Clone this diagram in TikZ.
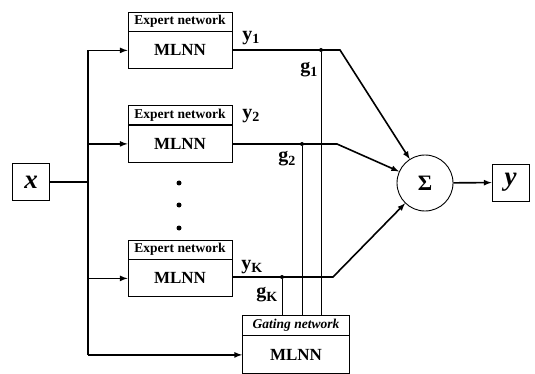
\documentclass[tikz,border=0pt]{standalone}
\usepackage{fontspec}
\setmainfont{Liberation Serif}
\usepackage{tikz}
\tikzstyle{head}=[rectangle,draw=black,line width=0.9pt,minimum width=104pt,minimum height=19pt,inner sep=0pt,
font=\fontsize{13.5}{13.5}\selectfont\bfseries]
\tikzstyle{body}=[rectangle,draw=black,line width=0.9pt,minimum width=104pt,minimum height=37pt,inner sep=0pt,
font=\fontsize{17}{17}\selectfont\bfseries]
\tikzstyle{io}=[rectangle,draw=black,line width=0.9pt,minimum width=37pt,minimum height=37pt,inner sep=0pt,
font=\fontsize{27}{27}\selectfont\bfseries\itshape]
\tikzstyle{sum}=[circle,draw=black,line width=0.9pt,minimum size=56pt,inner sep=0pt,font=\fontsize{22}{22}\selectfont\bfseries]
\tikzstyle{lbl}=[inner sep=0pt,font=\fontsize{20}{20}\selectfont\bfseries]
\tikzstyle{wire}=[line width=1.6pt]
\tikzstyle{gwire}=[line width=0.7pt]
\tikzstyle{dot}=[circle,fill=black,inner sep=0pt,minimum size=4pt]
\usetikzlibrary{arrows,positioning}

\begin{document}
\begin{tikzpicture}[x=1pt,y=-1pt,>=latex]
            \useasboundingbox (0,0) rectangle (535,374);

            % INPUT AND OUTPUT

            \node[io] (x) at (31,182) {x};
            \node[sum] (sigma) at (425,183) {Σ};
            \node[io] (y) at (510.5,182.5) {y};
            \coordinate (bus) at (88,182);

            % EXPERT NETWORKS

            \node[head] (h1) at (180,21.5) {Expert network};
            \node[body,below=0pt of h1] (e1) {MLNN};
            \node[head] (h2) at (180,115) {Expert network};
            \node[body,below=0pt of h2] (e2) {MLNN};
            \node[head] (hk) at (180,249.5) {Expert network};
            \node[body,below=0pt of hk] (ek) {MLNN};

            \node[dot,minimum size=5pt] (v1) at (179,183) {};
            \node[dot,minimum size=5pt] (v2) at (179,205) {};
            \node[dot,minimum size=5pt] (v3) at (179,228) {};

            % GATING NETWORK

            \node[head,minimum width=107pt,minimum height=20pt,font=\fontsize{13.5}{13.5}\selectfont\bfseries\itshape] (hg) at (296,325) {Gating network};
            \node[body,minimum width=107pt,minimum height=38pt,below=0pt of hg] (gate) {MLNN};

            % Input bus

            \draw[wire] (x) -- (bus);
            \draw[wire] (e1.west -| bus) -- (gate.west -| bus);
            \draw[wire,->] (e1.west -| bus) -- (e1.west);
            \draw[wire,->] (e2.west -| bus) -- (e2.west);
            \draw[wire,->] (ek.west -| bus) -- (ek.west);
            \draw[wire,->] (gate.west -| bus) -- (gate.west);

            % Outputs to the sum

            \coordinate (k1) at (340,50);
            \coordinate (k2) at (337,144);
            \coordinate (kk) at (333,277);
            \draw[wire,->] (e1.east |- k1) -- (k1) -- (sigma);
            \draw[wire,->] (e2.east |- k2) -- (k2) -- (sigma);
            \draw[wire,->] (ek.east |- kk) -- (kk) -- (sigma);
            \draw[wire,->] (sigma) -- (y);

            % Gates

            \node[dot] (d1) at (321,50) {};
            \node[dot] (d2) at (302,144) {};
            \node[dot] (dk) at (282,277) {};
            \draw[gwire] (d1) -- (hg.north -| d1);
            \draw[gwire] (d2) -- (hg.north -| d2);
            \draw[gwire] (dk) -- (hg.north -| dk);

            \node[lbl] (ly1) at (251,38) {y\textsubscript{1}};
            \node[lbl] (ly2) at (251,116) {y\textsubscript{2}};
            \node[lbl] (lyk) at (252,267) {y\textsubscript{K}};
            \node[lbl] (lg1) at (309,70) {g\textsubscript{1}};
            \node[lbl] (lg2) at (287,159) {g\textsubscript{2}};
            \node[lbl] (lgk) at (267,295) {g\textsubscript{K}};

        \end{tikzpicture}
\end{document}
